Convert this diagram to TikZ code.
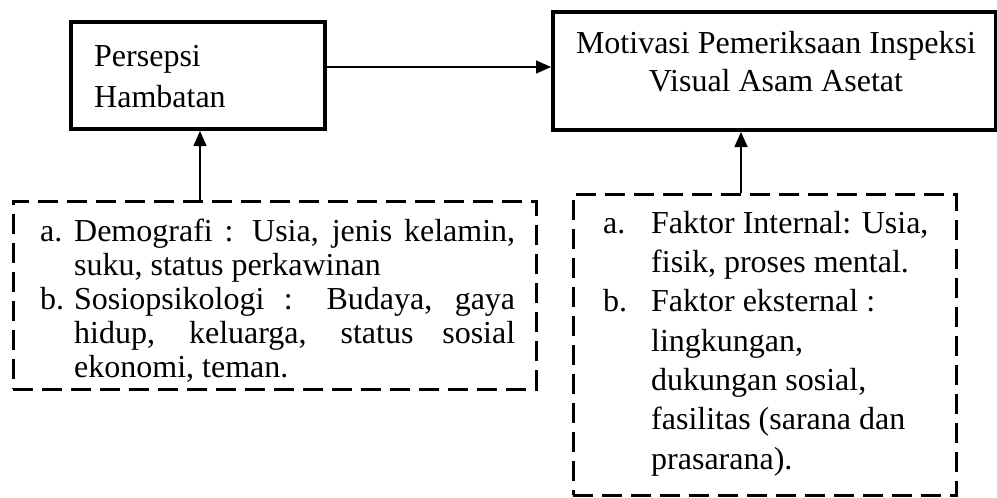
\documentclass[tikz,border=0pt]{standalone}
\usepackage{fontspec}
\setmainfont{Liberation Serif}
\usetikzlibrary{arrows.meta}

\tikzset{
  solidbox/.style={draw, line width=4pt, inner sep=0pt},
  dashbox/.style={draw, line width=3pt, dash pattern=on 20pt off 9pt, inner sep=0pt},
  conn/.style={line width=1.5pt, -{Triangle[length=15pt,width=13pt]}},
  bigtext/.style={font=\fontsize{32}{#1}\selectfont, inner sep=0pt},
}
\newcommand{\itemlab}[2]{\llap{\makebox[#1][l]{#2}}}

\begin{document}
\begin{tikzpicture}[x=1pt,y=-1pt]
  \useasboundingbox (0,0) rectangle (997,498);
  % ---- top row: the two solid boxes ----
  \node[solidbox, minimum width=254pt, minimum height=107pt] (persepsi) at (198,75.5) {};
  \node[bigtext=41pt, anchor=base west, align=left] (persepsitxt) at (94,107) {Persepsi\\Hambatan};
  \node[solidbox, minimum width=443pt, minimum height=118pt] (motivasi) at (774.5,71) {};
  \node[bigtext=38pt, anchor=base, align=center] (motivasitxt) at (776,91)
    {Motivasi Pemeriksaan Inspeksi\\Visual Asam Asetat};
  % ---- bottom row: the dashed factor boxes ----
  \node[dashbox, minimum width=523pt, minimum height=188pt] (demografi) at (274.5,295) {};
  \node[bigtext=34pt, anchor=base west, text width=441pt, align=justify] (demografitxt) at (74,241)
    {\noindent\itemlab{34pt}{a.}Demografi : Usia, jenis kelamin,\linebreak suku, status perkawinan\par
     \noindent\itemlab{34pt}{b.}Sosiopsikologi : Budaya, gaya\linebreak hidup, keluarga, status sosial\linebreak ekonomi, teman.};
  \node[dashbox, minimum width=383pt, minimum height=301pt] (faktor) at (764.5,344.5) {};
  \node[bigtext=39.3pt, anchor=base west, align=left] (faktortxt) at (651,469)
    {\itemlab{48pt}{a.}Faktor Internal: Usia,\\fisik, proses mental.\\
     \itemlab{48pt}{b.}Faktor eksternal :\\lingkungan,\\dukungan sosial,\\fasilitas (sarana dan\\prasarana).};
  % ---- connectors ----
  \draw[conn] ([yshift=8.5pt]persepsi.east) -- ([yshift=4pt]motivasi.west);
  \draw[conn] ([xshift=-74.5pt]demografi.north) -- ([xshift=-74.5pt]demografi.north |- persepsi.south);
  \draw[conn] ([xshift=-23.5pt]faktor.north) -- ([xshift=-23.5pt]faktor.north |- motivasi.south);
\end{tikzpicture}
\end{document}
